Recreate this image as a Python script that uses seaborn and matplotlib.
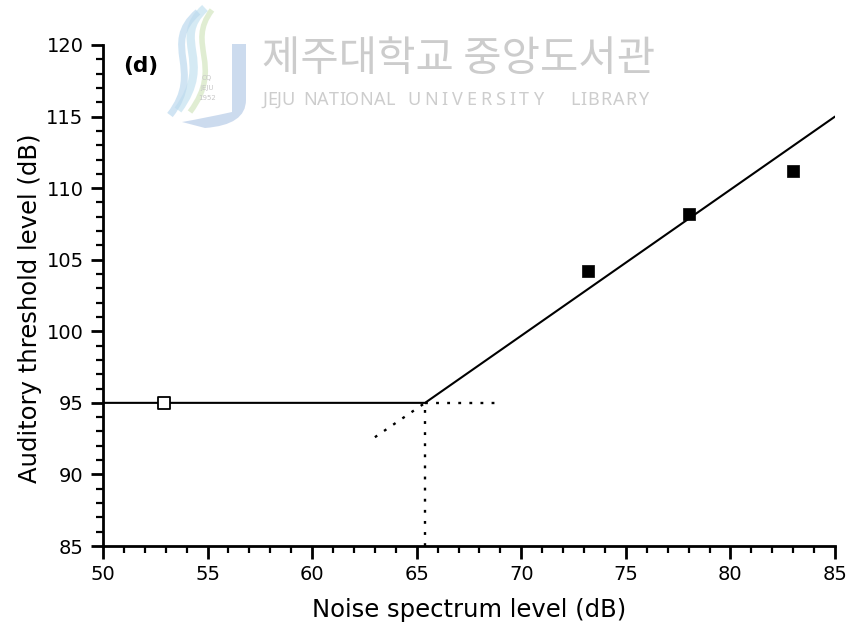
import matplotlib
matplotlib.use("Agg")
import matplotlib.pyplot as plt
import matplotlib.transforms as mtransforms
from matplotlib.path import Path
from matplotlib.patches import PathPatch
from matplotlib.ticker import MultipleLocator
import seaborn as sns

# Measured thresholds
quiet_noise = [52.9]
quiet_threshold = [95.0]
masked_noise = [73.2, 78.0, 83.0]
masked_threshold = [104.2, 108.2, 111.2]

# Two-segment fit: flat below the knee, rising above it
fit_noise = [50.0, 65.4, 85.0]
fit_threshold = [95.0, 95.0, 115.0]

# Dotted construction lines around the knee
flat_ext_noise = [65.4, 69.0]
flat_ext_threshold = [95.0, 95.0]
slope_ext_noise = [63.0, 65.4]
slope_ext_threshold = [92.6, 95.0]
drop_noise = [65.4, 65.4]
drop_threshold = [85.0, 95.0]

x_ticks = [50, 55, 60, 65, 70, 75, 80, 85]
y_ticks = [85, 90, 95, 100, 105, 110, 115, 120]

panel_label = "(d)"
x_label = "Noise spectrum level (dB)"
y_label = "Auditory threshold level (dB)"
wm_korean = "제주대학교 중앙도서관"
wm_words = ["JEJU", "NATIONAL", "UNIVERSITY", "LIBRARY"]
wm_word_left = [262, 303, 407, 570]
wm_word_right = [295, 395, 543, 648]

sns.set_theme(style="ticks")
plt.rcParams["font.family"] = ["DejaVu Sans"]
plt.rcParams["text.color"] = "black"
plt.rcParams["axes.labelcolor"] = "black"

fig = plt.figure(figsize=(8.5, 6.31), dpi=100)
ax = fig.add_axes([103 / 850, 1 - 546 / 631, (835 - 103) / 850, (546 - 45) / 631])

# pixel-based transform (origin top-left) for the library watermark
px = mtransforms.Affine2D().scale(1 / 850, -1 / 631).translate(0, 1) + fig.transFigure

# Watermark logo: swooshes and a "J"
swooshes = [
    ([(205, 8), (170, 40), (215, 60), (178, 110)], "#c4e2f0", 6),
    ([(212, 10), (185, 45), (225, 65), (190, 112)], "#d3e6c0", 4),
    ([(198, 12), (160, 45), (205, 70), (170, 115)], "#bcd9ee", 5),
]
for pts, col, lw in swooshes:
    path = Path(pts, [Path.MOVETO, Path.CURVE4, Path.CURVE4, Path.CURVE4])
    fig.patches.append(PathPatch(path, transform=px, facecolor="none",
                                 edgecolor=col, lw=lw, alpha=0.7))
j_pts = [(232, 44), (246, 44), (246, 100), (246, 125), (205, 128), (182, 122),
         (205, 118), (232, 112), (232, 95), (232, 44)]
j_codes = [Path.MOVETO, Path.LINETO, Path.LINETO, Path.CURVE3, Path.CURVE3,
           Path.LINETO, Path.CURVE3, Path.CURVE3, Path.LINETO, Path.CLOSEPOLY]
fig.patches.append(PathPatch(Path(j_pts, j_codes), transform=px,
                             facecolor="#bccfe9", edgecolor="none", alpha=0.75))
fig.text(207, 88, "CQ\nJEJU\n1952", transform=px, fontsize=5, color="#c8c8c8",
         ha="center", va="center", linespacing=1.8)
fig.text(262, 60, wm_korean, transform=px, fontsize=30, color="#cccccc",
         family=["Noto Sans CJK KR", "DejaVu Sans"], ha="left", va="center")

# English line of the watermark, letter-spaced to fill each word's slot
renderer = fig.canvas.get_renderer()
for word, left, right in zip(wm_words, wm_word_left, wm_word_right):
    glyphs = []
    widths = []
    for ch in word:
        t = fig.text(0, 100, ch, transform=px, fontsize=13, color="#cdcdcd",
                     family=["Noto Sans", "DejaVu Sans"], ha="left", va="center")
        glyphs.append(t)
        widths.append(t.get_window_extent(renderer).width)
    gap = (right - left - sum(widths)) / max(len(word) - 1, 1)
    gap = max(gap, 0.0)
    pos = left
    for t, w in zip(glyphs, widths):
        t.set_position((pos, 100))
        pos += w + gap

# Fitted lines
sns.lineplot(x=fit_noise, y=fit_threshold, ax=ax, color="black", lw=1.5,
             sort=False, estimator=None)
dot_style = dict(color="black", lw=1.7, linestyle=(0, (1.2, 3.5)))
for xs, ys in [(flat_ext_noise, flat_ext_threshold),
               (slope_ext_noise, slope_ext_threshold),
               (drop_noise, drop_threshold)]:
    sns.lineplot(x=xs, y=ys, ax=ax, sort=False, estimator=None, **dot_style)

# Data points
sns.scatterplot(x=quiet_noise, y=quiet_threshold, ax=ax, marker="s", s=70,
                facecolor="white", edgecolor="black", linewidth=1.3, zorder=5)
sns.scatterplot(x=masked_noise, y=masked_threshold, ax=ax, marker="s", s=80,
                color="black", edgecolor="black", linewidth=0.5, zorder=5)

ax.text(50.96, 118.5, panel_label, fontsize=15.5, fontweight="bold",
        va="center", color="black")

ax.set_xlim(50, 85)
ax.set_ylim(85, 120)
ax.set_xticks(x_ticks)
ax.set_yticks(y_ticks)
ax.xaxis.set_minor_locator(MultipleLocator(1))
ax.yaxis.set_minor_locator(MultipleLocator(1))
ax.tick_params(which="major", direction="out", length=9, width=2,
               labelsize=14, color="black", labelcolor="black")
ax.tick_params(which="minor", direction="out", length=5, width=1.6,
               color="black")
ax.tick_params(axis="x", pad=5)
ax.tick_params(axis="y", pad=5)
for side in ("left", "bottom"):
    ax.spines[side].set_linewidth(2)
    ax.spines[side].set_color("black")
for side in ("top", "right"):
    ax.spines[side].set_visible(False)
ax.patch.set_alpha(0)

ax.set_xlabel(x_label, fontsize=17.5, labelpad=10, color="black")
ax.set_ylabel(y_label, fontsize=17.5, color="black")
ax.yaxis.set_label_coords(-0.083, 0.475)

fig.savefig("out.png", dpi=100)
